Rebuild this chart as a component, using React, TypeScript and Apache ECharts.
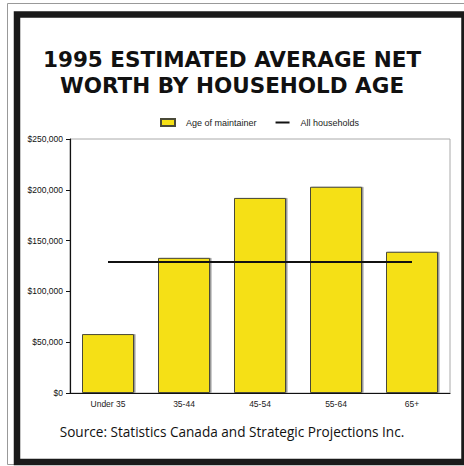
import React, { useEffect, useRef } from "react";
import * as echarts from "echarts";

const categories = ["Under 35", "35-44", "45-54", "55-64", "65+"];
const netWorth = [58000, 133000, 192000, 203000, 139000];
const allHouseholds = [129000, 129000, 129000, 129000, 129000];
const yTicks = [0, 50000, 100000, 150000, 200000, 250000];

export default function App() {
  const ref = useRef<HTMLDivElement>(null);
  useEffect(() => {
    const chart = echarts.init(ref.current!, null, { renderer: "svg" });
    chart.setOption({
      animation: false,
      backgroundColor: "#fff",
      title: [
        {
          text: "1995 ESTIMATED AVERAGE NET\nWORTH BY HOUSEHOLD AGE",
          left: "center",
          top: 41,
          textStyle: {
            fontFamily: "DejaVu Sans",
            fontWeight: "bold",
            fontSize: 21.5,
            lineHeight: 26,
            color: "#111",
          },
        },
        {
          text: "Source: Statistics Canada and Strategic Projections Inc.",
          left: "center",
          top: 419,
          textStyle: {
            fontFamily: "Open Sans",
            fontWeight: "normal",
            fontSize: 13.6,
            color: "#111",
          },
        },
      ],
      legend: {
        left: 155,
        top: 113,
        itemWidth: 14,
        itemHeight: 7,
        itemGap: 19,
        textStyle: { fontFamily: "Liberation Sans", fontSize: 9, color: "#222", padding: [0, 0, 0, 6] },
        data: [
          { name: "Age of maintainer", icon: "rect" },
          { name: "All households", icon: "path://M0,0H14V2H0Z" },
        ],
      },
      grid: {
        left: 70,
        right: 14,
        top: 139,
        bottom: 73,
        show: true,
        borderColor: "#aaa",
        borderWidth: 1,
      },
      xAxis: {
        type: "category",
        data: categories,
        axisLine: { lineStyle: { color: "#111", width: 1.2 } },
        axisTick: { inside: true, length: 5, lineStyle: { color: "#111" } },
        axisLabel: { fontFamily: "Liberation Sans", fontSize: 8.5, color: "#222", margin: 6 },
      },
      yAxis: {
        type: "value",
        min: 0,
        max: 250000,
        interval: 50000,
        splitLine: { show: false },
        axisLine: { show: true, lineStyle: { color: "#111", width: 1.2 } },
        axisTick: { show: true, length: 4, lineStyle: { color: "#111" } },
        axisLabel: {
          fontFamily: "Liberation Sans",
          fontSize: 8.5,
          color: "#111",
          margin: 7,
          formatter: (v: number) =>
            yTicks.includes(v) ? "$" + v.toLocaleString("en-US") : "",
        },
      },
      series: [
        {
          name: "Age of maintainer",
          type: "bar",
          data: netWorth,
          barWidth: 52,
          itemStyle: {
            color: "#F5E015",
            borderColor: "#4a4a38",
            borderWidth: 1,
            shadowColor: "#999",
            shadowOffsetX: 1.5,
            shadowOffsetY: 0,
            shadowBlur: 0,
          },
        },
        {
          name: "All households",
          type: "line",
          data: allHouseholds,
          symbol: "none",
          lineStyle: { color: "#111", width: 2 },
          itemStyle: { color: "#111" },
          z: 5,
        },
      ],
      graphic: [
        {
          type: "rect",
          shape: { x: 7.5, y: 3.5, width: 470, height: 461 },
          style: { fill: "none", stroke: "#999", lineWidth: 1 },
          silent: true,
        },
        {
          type: "rect",
          shape: { x: 17, y: 14.5, width: 447.5, height: 447.5 },
          style: { fill: "none", stroke: "#1a1a1a", lineWidth: 6.5 },
          silent: true,
        },
      ],
    });
    return () => chart.dispose();
  }, []);
  return (
    <div
      ref={ref}
      style={{ position: "fixed", left: 0, top: 0, width: 464, height: 466 }}
    />
  );
}
